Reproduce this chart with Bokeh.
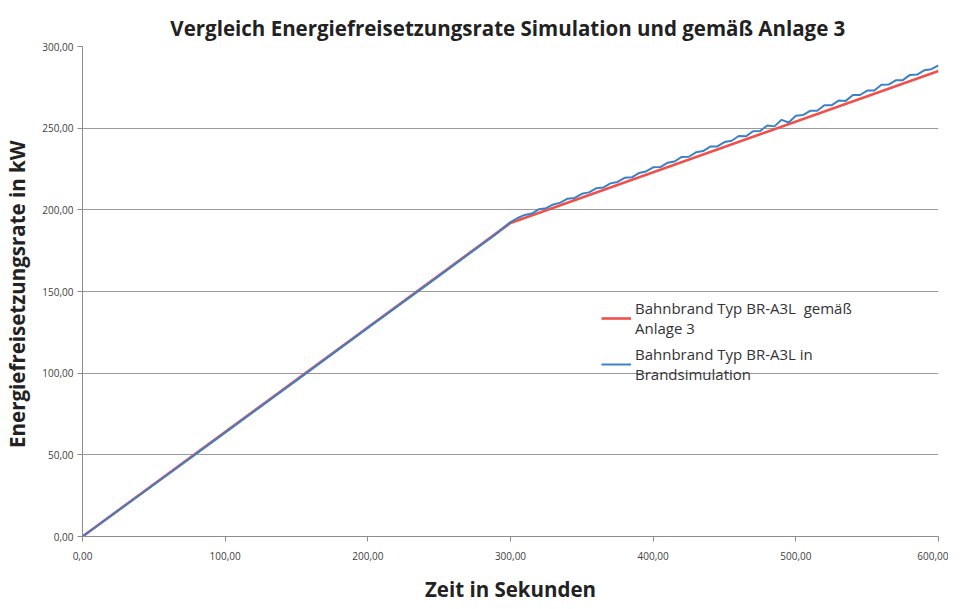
from bokeh.plotting import figure
from bokeh.models import Legend, LegendItem, FixedTicker, Range1d
from bokeh.embed import file_html
from bokeh.resources import INLINE

# --- data ---
t_anlage = [0, 300, 600]
q_anlage = [0.0, 192.0, 285.0]

t_sim = [0, 50, 100, 150, 200, 250, 290,
         300, 305, 310, 315, 320, 325, 330, 335, 340, 345, 350, 355, 360, 365, 370,
         375, 380, 385, 390, 395, 400, 405, 410, 415, 420, 425, 430, 435, 440, 445,
         450, 455, 460, 465, 470, 475, 480, 485, 490, 495, 500, 505, 510, 515, 520,
         525, 530, 535, 540, 545, 550, 555, 560, 565, 570, 575, 580, 585, 590, 595, 600]
q_sim = [0.0, 31.7, 63.6, 95.6, 127.7, 159.6, 185.3,
         192.5, 195.0, 196.9, 197.7, 200.4, 201.0, 203.3, 204.4, 206.8, 207.3, 209.8, 210.7, 213.2, 213.6, 216.2,
         217.1, 219.6, 219.9, 222.5, 223.5, 226.0, 226.2, 228.8, 229.6, 232.4, 232.5, 235.2, 236.0, 238.7, 238.8,
         241.5, 242.3, 245.2, 245.0, 248.1, 248.3, 251.6, 251.1, 255.1, 253.5, 257.6, 258.0, 260.6, 260.7, 264.0,
         264.0, 266.9, 266.7, 270.3, 270.3, 273.0, 273.0, 276.6, 276.7, 279.3, 279.4, 282.6, 282.8, 285.4, 286.1, 288.5]

x_ticks = [0, 100, 200, 300, 400, 500, 600]
x_labels = ["0,00", "100,00", "200,00", "300,00", "400,00", "500,00", "600,00"]
y_ticks = [0, 50, 100, 150, 200, 250, 300]
y_labels = ["0,00", "50,00", "100,00", "150,00", "200,00", "250,00", "300,00"]

title_text = "Vergleich Energiefreisetzungsrate  Simulation und gemäß Anlage 3"
x_title = "Zeit in Sekunden"
y_title = "Energiefreisetzungsrate  in kW"
label_anlage = "Bahnbrand Typ BR-A3L  gemäß\nAnlage 3"
label_sim = "Bahnbrand Typ BR-A3L in\nBrandsimulation"

FONT = "Open Sans"

p = figure(frame_width=856, frame_height=490, output_backend="svg", toolbar_location=None,
           x_range=Range1d(0, 600), y_range=Range1d(0, 300),
           min_border_left=80, min_border_right=10, min_border_top=46, min_border_bottom=50)
p.outline_line_color = None
p.background_fill_color = "white"
p.border_fill_color = "white"

p.title.text = title_text
p.title.text_font = FONT
p.title.text_font_size = "20.5px"
p.title.text_font_style = "bold"
p.title.text_color = "#222222"
p.title.align = "center"
p.title.offset = 12

# axes
p.xaxis.ticker = FixedTicker(ticks=x_ticks)
p.xaxis.major_label_overrides = {t: l for t, l in zip(x_ticks, x_labels)}
p.yaxis.ticker = FixedTicker(ticks=y_ticks)
p.yaxis.major_label_overrides = {t: l for t, l in zip(y_ticks, y_labels)}
for ax in (p.xaxis, p.yaxis):
    ax.axis_line_color = "#8c8c8c"
    ax.major_tick_line_color = "#8c8c8c"
    ax.minor_tick_line_color = None
    ax.major_tick_out = 5
    ax.major_tick_in = 0
    ax.major_label_text_font = FONT
    ax.major_label_text_font_size = "10px"
    ax.major_label_text_color = "#404040"
    ax.axis_label_text_font = FONT
    ax.axis_label_text_font_size = "20.5px"
    ax.axis_label_text_font_style = "bold"
    ax.axis_label_text_color = "#222222"
p.xaxis.axis_label = x_title
p.yaxis.axis_label = y_title
p.xaxis.major_label_standoff = 10
p.yaxis.major_label_standoff = 4
p.xaxis.axis_label_standoff = 12
p.yaxis.axis_label_standoff = 8

p.xgrid.grid_line_color = None
p.ygrid.grid_line_color = "#9a9a9a"
p.ygrid.grid_line_width = 1

r1 = p.line(t_anlage, q_anlage, line_color="#f0504c", line_width=2.6)
r2 = p.line(t_sim, q_sim, line_color="#3d80c6", line_width=2.0)

legend = Legend(items=[LegendItem(label=label_anlage, renderers=[r1]),
                       LegendItem(label=label_sim, renderers=[r2])],
                location=(515, 148))
legend.background_fill_alpha = 0
legend.border_line_alpha = 0
legend.label_text_font = FONT
legend.label_text_font_size = "15px"
legend.label_text_color = "#333333"
legend.glyph_width = 30
legend.label_standoff = 4
legend.spacing = 6
legend.padding = 4
p.add_layout(legend, "center")

open("out.html", "w").write(file_html(p, INLINE))
